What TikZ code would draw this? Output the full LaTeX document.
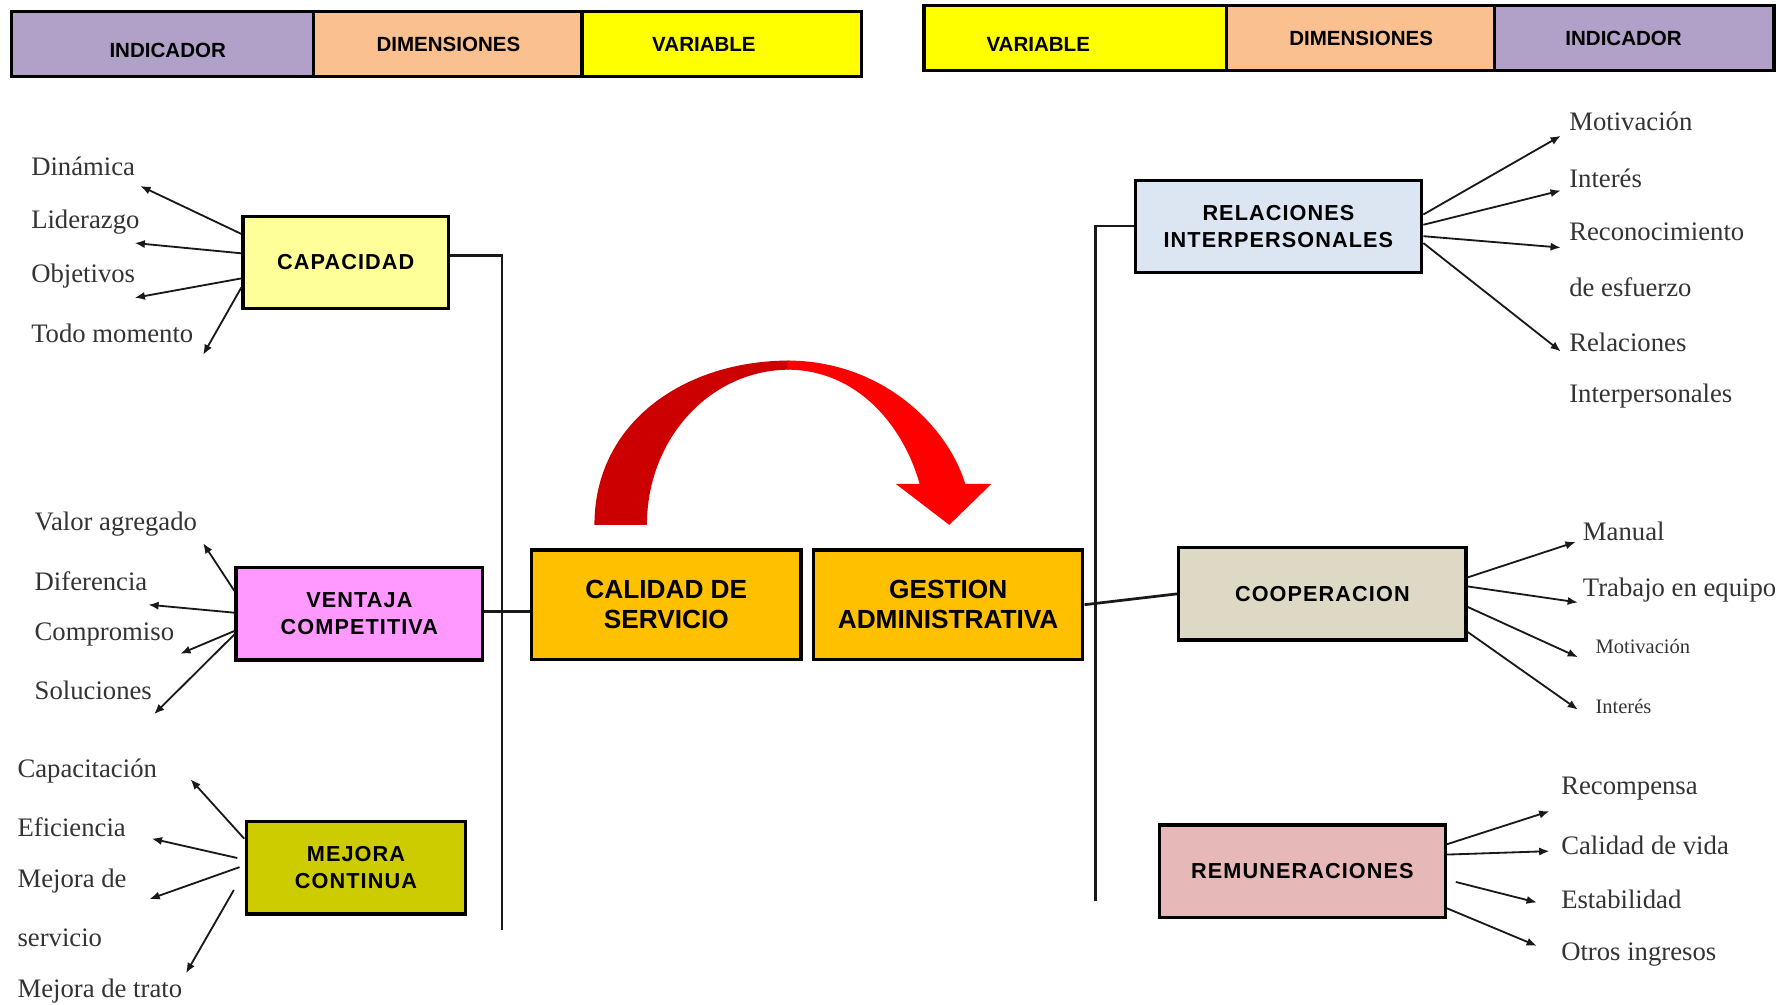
\documentclass[tikz,border=0pt]{standalone}
\usepackage{fontspec}
\setmainfont{Liberation Serif}
\newfontfamily\boxfont[LetterSpace=5]{Liberation Sans}
\newfontfamily\headfont{Liberation Sans}
\usetikzlibrary{arrows.meta}
\definecolor{lav}{HTML}{B1A0C7}
\definecolor{peach}{HTML}{FAC090}
\definecolor{yel}{HTML}{FFFF00}
\definecolor{capc}{HTML}{FFFF99}
\definecolor{venc}{HTML}{FF99FF}
\definecolor{mejc}{HTML}{CCCC00}
\definecolor{orc}{HTML}{FFC000}
\definecolor{relc}{HTML}{DCE6F2}
\definecolor{cooc}{HTML}{DDD9C4}
\definecolor{remc}{HTML}{E6B8B7}
\definecolor{darkred}{HTML}{CC0000}
\definecolor{brightred}{HTML}{FF0000}
\begin{document}
\begin{tikzpicture}[x=0.5pt,y=-0.5pt,
 cell/.style={draw=black,line width=1.5pt,inner sep=0pt,minimum height=28.5pt},
 htext/.style={font=\headfont\bfseries\fontsize{9}{10}\selectfont,inner sep=0pt},
 dbox/.style={draw=black,line width=1.5pt,inner sep=0pt,minimum height=40.5pt,align=center,font=\boxfont\bfseries\fontsize{9.5}{11.7}\selectfont},
 obox/.style={dbox,fill=orc,minimum width=118pt,minimum height=48pt,font=\headfont\bfseries\fontsize{11.5}{13}\selectfont},
 lbl/.style={anchor=west,inner sep=0pt,text=black!80,font=\fontsize{11.7}{13}\selectfont},
 slbl/.style={lbl,font=\fontsize{9}{10}\selectfont},
 arr/.style={-{Latex[length=4.5pt,width=3.6pt]},line width=0.8pt,black!90},
 tree/.style={line width=1.2pt,black!90}]
\useasboundingbox (0,0) rectangle (1568,880);
% header left
\node[cell,fill=lav,minimum width=132.5pt] (hl1) at (142.5,38.5) {};
\node[cell,fill=peach,minimum width=117.5pt] (hl2) at (392.5,38.5) {};
\node[cell,fill=yel,minimum width=122.5pt] (hl3) at (632.5,38.5) {};
\node[htext] (tl1) at (147,44) {INDICADOR};
\node[htext] (tl2) at (393,39) {DIMENSIONES};
\node[htext] (tl3) at (617,39) {VARIABLE};
% header right
\node[cell,fill=yel,minimum width=132.5pt] (hr1) at (942.5,33.5) {};
\node[cell,fill=peach,minimum width=117.5pt] (hr2) at (1192.5,33.5) {};
\node[cell,fill=lav,minimum width=122.5pt] (hr3) at (1432.5,33.5) {};
\node[htext] (tr1) at (910,39) {VARIABLE};
\node[htext] (tr2) at (1193,34) {DIMENSIONES};
\node[htext] (tr3) at (1423,34) {INDICADOR};
% red curved arrow
\fill[darkred] (521,460) .. controls (521,370) and (600,316) .. (692,316) -- (692,324) .. controls (622,324) and (567,385) .. (567,460) -- cycle;
\fill[brightred] (690,316) .. controls (772,316) and (830,372) .. (846,424) -- (869,424) -- (832,460) -- (785,424) -- (806,424) .. controls (792,374) and (752,324) .. (690,324) -- cycle;
% boxes
\node[dbox,fill=capc,minimum width=90pt] (cap) at (303,230) {CAPACIDAD};
\node[dbox,fill=venc,minimum width=108pt] (ven) at (315,538) {VENTAJA\\COMPETITIVA};
\node[dbox,fill=mejc,minimum width=96pt] (mej) at (312,760.5) {MEJORA\\CONTINUA};
\node[obox] (cal) at (584,530) {CALIDAD DE\\SERVICIO};
\node[obox] (ges) at (831,530) {GESTION\\ADMINISTRATIVA};
\node[dbox,fill=relc,minimum width=125.5pt] (rel) at (1120.5,198.5) {RELACIONES\\INTERPERSONALES};
\node[dbox,fill=cooc,minimum width=126pt] (coo) at (1159,520.5) {COOPERACION};
\node[dbox,fill=remc,minimum width=125.5pt] (rem) at (1141.5,763.5) {REMUNERACIONES};
% tree lines
\coordinate (lt) at (440,224);
\coordinate (lb) at (440,815);
\draw[tree] (cap.east |- lt) -- (lt) -- (lb);
\draw[tree] (ven.east |- 0,536) -- (cal.west |- 0,536);
\draw[tree] (ges.east) -- (coo.west);
\coordinate (rt) at (960,198);
\coordinate (rb) at (960,790);
\draw[tree] (rel.west |- rt) -- (rt) -- (rb);
% arrows
\foreach \ys/\xe/\ye [count=\i] in {205/123/163,222/118/213,244/118/261,252/178/311}{
  \coordinate (capT\i) at (\xe,\ye);
  \draw[arr] (cap.west |- 0,\ys) -- (capT\i);}
\foreach \ys/\xe/\ye [count=\i] in {518/178/476,537/130/530,553/158/573,556/135/626}{
  \coordinate (venT\i) at (\xe,\ye);
  \draw[arr] (ven.west |- 0,\ys) -- (venT\i);}
\foreach \xs/\ys/\xe/\ye [count=\i] in {214/735/167/683,208/752/133/735,210/760/131/788,205/780/163/853}{
  \coordinate (mejS\i) at (\xs,\ys);
  \coordinate (mejT\i) at (\xe,\ye);
  \draw[arr] (mejS\i) -- (mejT\i);}
\foreach \ys/\xe/\ye [count=\i] in {188/1368/119,197/1368/167,207/1368/217,213/1368/308}{
  \coordinate (relT\i) at (\xe,\ye);
  \draw[arr] (rel.east |- 0,\ys) -- (relT\i);}
\foreach \ys/\xe/\ye [count=\i] in {506/1381/475,514/1383/528,532/1383/576,554/1383/622}{
  \coordinate (cooT\i) at (\xe,\ye);
  \draw[arr] (coo.east |- 0,\ys) -- (cooT\i);}
\foreach \xs/\ys/\xe/\ye [count=\i] in {1268/740/1358/711,1268/749/1358/746,1276/773/1347/791,1268/796/1347/829}{
  \coordinate (remS\i) at (\xs,\ys);
  \coordinate (remT\i) at (\xe,\ye);
  \draw[arr] (remS\i) -- (remT\i);}
% labels left
\node[lbl] (a1) at (27,146) {Dinámica};
\node[lbl] (a2) at (27,195) {Liderazgo};
\node[lbl] (a3) at (27,242) {Objetivos};
\node[lbl] (a4) at (27,292) {Todo momento};
\node[lbl] (b1) at (30,459) {Valor agregado};
\node[lbl] (b2) at (30,509) {Diferencia};
\node[lbl] (b3) at (30,556) {Compromiso};
\node[lbl] (b4) at (30,605) {Soluciones};
\node[lbl] (c1) at (15,676) {Capacitación};
\node[lbl] (c2) at (15,725) {Eficiencia};
\node[lbl] (c3) at (15,772) {Mejora de};
\node[lbl] (c4) at (15,822) {servicio};
\node[lbl] (c5) at (15,869) {Mejora de trato};
% labels right
\node[lbl] (d1) at (1375,106) {Motivación};
\node[lbl] (d2) at (1375,156) {Interés};
\node[lbl] (d3) at (1375,203) {Reconocimiento};
\node[lbl] (d4) at (1375,252) {de esfuerzo};
\node[lbl] (d5) at (1375,300) {Relaciones};
\node[lbl] (d6) at (1375,347) {Interpersonales};
\node[lbl] (e1) at (1387,466) {Manual};
\node[lbl] (e2) at (1387,517) {Trabajo en equipo};
\node[slbl] (e3) at (1398,567) {Motivación};
\node[slbl] (e4) at (1398,619) {Interés};
\node[lbl] (f1) at (1368,691) {Recompensa};
\node[lbl] (f2) at (1368,741) {Calidad de vida};
\node[lbl] (f3) at (1368,788) {Estabilidad};
\node[lbl] (f4) at (1368,837) {Otros ingresos};
\end{tikzpicture}
\end{document}
